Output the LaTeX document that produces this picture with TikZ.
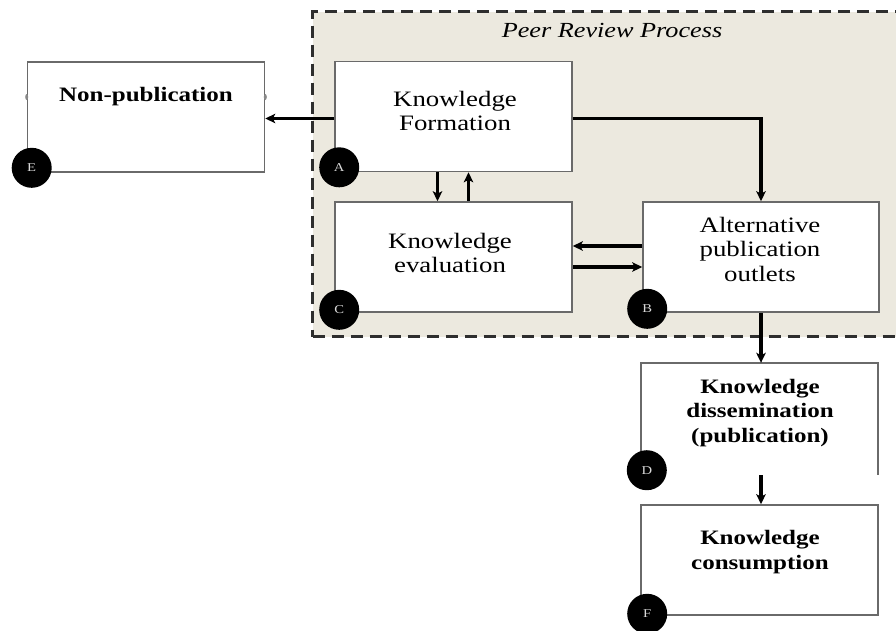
\documentclass[tikz,border=0pt]{standalone}
\usepackage{fontspec}
\setmainfont[FakeStretch=1.22]{Liberation Serif}
\usetikzlibrary{arrows.meta,calc,shapes.geometric}

\definecolor{peerbg}{HTML}{ECE9DF}
\definecolor{boxline}{HTML}{6A6A6A}
\definecolor{dashline}{HTML}{2E2E2E}

\tikzset{
  box/.style={draw=boxline, line width=1.6pt, fill=white, inner sep=0pt,
              minimum width=237pt, minimum height=110pt},
  openbox/.style={inner sep=0pt, minimum width=237pt, minimum height=112pt},
  label text/.style={align=center, inner sep=0pt,
              font=\fontsize{22}{24.5}\selectfont},
  bold text/.style={label text, font=\fontsize{20.5}{24.5}\selectfont\bfseries},
  flow/.style={line width=3.2pt, draw=black,
              -{Stealth[length=10pt,width=9.5pt,inset=2.5pt]}},
  tag/.style={circle, fill=black, minimum size=40pt, inner sep=0pt,
              text=white!85!black, font=\fontsize{12}{12}\selectfont},
  handle/.style={ellipse, fill=boxline!80, minimum width=3pt,
              minimum height=6pt, inner sep=0pt},
}

\begin{document}
\begin{tikzpicture}[x=1pt, y=-1pt]
\useasboundingbox (0,0) rectangle (896,630);
\clip (0,0) rectangle (896,630);

% shaded peer-review region
\node[draw=dashline, fill=peerbg, line width=3pt,
      dash pattern=on 12pt off 7pt, inner sep=0pt,
      minimum width=600pt, minimum height=325pt, anchor=north west]
      (peer) at (311,10) {};
\node[label text, font=\fontsize{21.5}{25}\selectfont\itshape]
      (peertitle) at (612,30) {Peer Review Process};

% boxes
\node[box] (A) at (453.5,116.5) {};
\node[box] (E) at (146,117) {};
\node[box] (C) at (453.5,257) {};
\node[box, minimum width=236pt] (B) at (761,257) {};
\node[openbox] (D) at (759.5,419) {};
\node[box] (F) at (759.5,560) {};

% dissemination box has no bottom edge
\draw[draw=boxline, line width=1.6pt]
  ($(D.south west)+(0,-15)$) -- (D.north west) -- (D.north east) -- (D.south east);

% box texts
\node[label text] (At) at (455,111) {Knowledge\\Formation};
\node[label text] (Ct) at (450,253) {Knowledge\\evaluation};
\node[label text] (Bt) at (760,249) {Alternative\\publication\\outlets};
\node[bold text] (Et) at (146,97) {Non-publication};
\node[bold text] (Dt) at (760,413) {Knowledge\\dissemination\\(publication)};
\node[bold text] (Ft) at (760,552) {Knowledge\\consumption};

% small side handles on the non-publication box
\node[handle] (Eh1) at (E.west |- Et) {};
\node[handle] (Eh2) at (E.east |- Et) {};

% connectors
\draw[flow] ([yshift=-2pt]A.west) -- ([yshift=-2pt]A.west -| E.east);
\draw[flow] ([yshift=-2pt]A.east) -| (B.north);
\draw[flow] ([xshift=-16pt]A.south) -- ([xshift=-16pt]C.north);
\draw[flow] ([xshift=15pt]C.north) -- ([xshift=15pt]A.south);
\draw[flow] ([yshift=11pt]B.west) -- ([yshift=11pt]B.west -| C.east);
\draw[flow] ([yshift=-10pt]C.east) -- ([yshift=-10pt]C.east -| B.west);
\draw[flow] (B.south) -- (B.south |- D.north);
\draw[flow] (B.south |- D.south) -- (B.south |- F.north);

% corner tags
\node[tag] (tA) at ($(A.south west)+(5,-5)$) {A};
\node[tag] (tE) at ($(E.south west)+(5,-5)$) {E};
\node[tag] (tC) at ($(C.south west)+(5,-3)$) {C};
\node[tag] (tB) at ($(B.south west)+(5,-4)$) {B};
\node[tag] (tD) at ($(D.south west)+(6,-5)$) {D};
\node[tag] (tF) at ($(F.south west)+(7,-2)$) {F};
\end{tikzpicture}
\end{document}
